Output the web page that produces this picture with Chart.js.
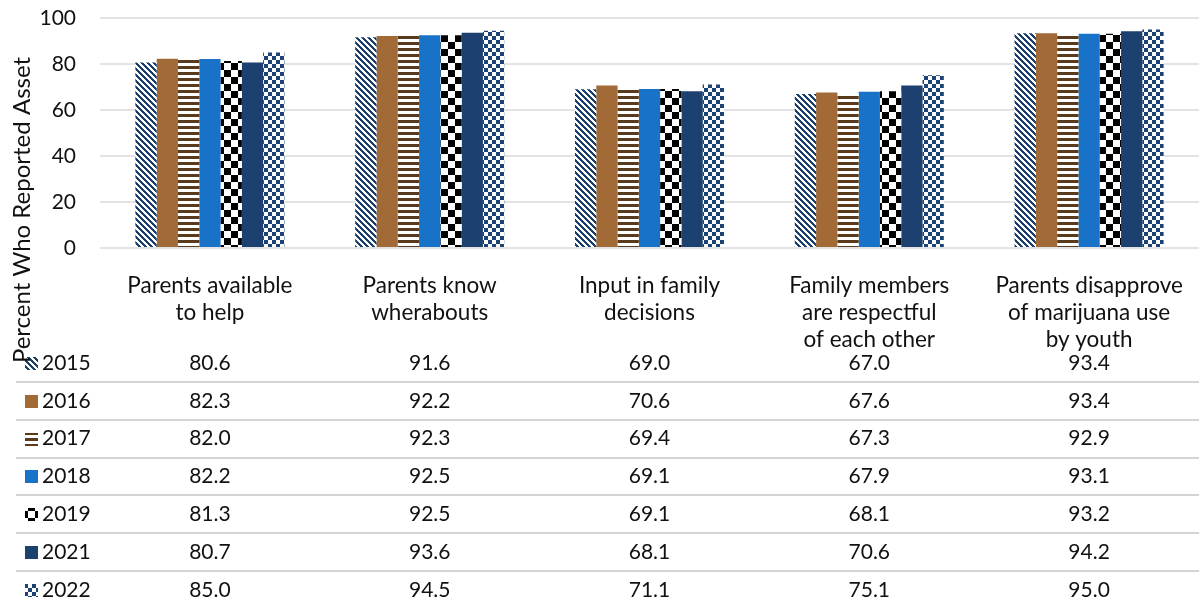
<!DOCTYPE html>
<html>
<head>
<meta charset="utf-8">
<script src="https://cdn.jsdelivr.net/npm/chart.js@4.4.1/dist/chart.umd.min.js"></script>
<style>
  html, body { margin: 0; padding: 0; background: #fff; }
  #wrap { width: 1199px; height: 606px; position: relative; }
</style>
</head>
<body>
<div id="wrap"><canvas id="c" width="1199" height="606"></canvas></div>
<script>
// ---- data ----
const categories = [
  ["Parents available", "to help"],
  ["Parents know", "wherabouts"],
  ["Input in family", "decisions"],
  ["Family members", "are respectful", "of each other"],
  ["Parents disapprove", "of marijuana use", "by youth"]
];
const years = ["2015", "2016", "2017", "2018", "2019", "2021", "2022"];
const v2015 = [80.6, 91.6, 69.0, 67.0, 93.4];
const v2016 = [82.3, 92.2, 70.6, 67.6, 93.4];
const v2017 = [82.0, 92.3, 69.4, 67.3, 92.9];
const v2018 = [82.2, 92.5, 69.1, 67.9, 93.1];
const v2019 = [81.3, 92.5, 69.1, 68.1, 93.2];
const v2021 = [80.7, 93.6, 68.1, 70.6, 94.2];
const v2022 = [85.0, 94.5, 71.1, 75.1, 95.0];
const seriesValues = [v2015, v2016, v2017, v2018, v2019, v2021, v2022];
const yTicks = [0, 20, 40, 60, 80, 100];
const yTitle = "Percent Who Reported Asset";

// ---- patterns ----
function makePattern(size, draw) {
  const c = document.createElement('canvas');
  c.width = size; c.height = size;
  const g = c.getContext('2d');
  draw(g, size);
  return document.getElementById('c').getContext('2d').createPattern(c, 'repeat');
}
const NAVY = '#1b3f6d';
const pDiag = makePattern(6, (g, s) => {
  g.fillStyle = '#fff'; g.fillRect(0, 0, s, s);
  g.fillStyle = NAVY;
  for (let y = 0; y < s; y++) {
    for (let k = 0; k < 3; k++) {
      const x = (y + k) % s;
      g.fillRect(x, y, 1, 1);
    }
  }
});
const pHoriz = makePattern(6, (g, s) => {
  g.fillStyle = '#fff'; g.fillRect(0, 0, s, s);
  g.fillStyle = '#5a3a1c'; g.fillRect(0, 0, s, 3);
});
const pCheckBig = makePattern(14, (g, s) => {
  g.fillStyle = '#fff'; g.fillRect(0, 0, s, s);
  g.fillStyle = '#000'; g.fillRect(0, 0, 7, 7); g.fillRect(7, 7, 7, 7);
});
const pCheckSmall = makePattern(8, (g, s) => {
  g.fillStyle = '#fff'; g.fillRect(0, 0, s, s);
  g.fillStyle = '#1b4375'; g.fillRect(0, 0, 4, 4); g.fillRect(4, 4, 4, 4);
});
const fills = [pDiag, '#a26a37', pHoriz, '#1872c7', pCheckBig, '#1c406f', pCheckSmall];

const FONT = 'Lato, "Open Sans", sans-serif';
const TXT = '#111';

const tablePlugin = {
  id: 'tablePlugin',
  afterDraw(chart) {
    const ctx = chart.ctx;
    const xs = chart.scales.x;
    const base = chart.chartArea.bottom;
    const rowH = 37.8;
    const firstRow = base + 115;
    ctx.save();
    // separators
    ctx.strokeStyle = '#d4d4d4';
    ctx.lineWidth = 2;
    for (let i = 0; i < years.length - 1; i++) {
      const y = Math.round(firstRow + i * rowH + rowH / 2) ;
      ctx.beginPath(); ctx.moveTo(16, y); ctx.lineTo(1199, y); ctx.stroke();
    }
    ctx.font = '21px ' + FONT;
    ctx.fillStyle = TXT;
    ctx.textBaseline = 'middle';
    years.forEach((yr, i) => {
      const y = firstRow + i * rowH;
      ctx.fillStyle = fills[i];
      ctx.fillRect(25, Math.round(y - 6), 13, 13);
      ctx.fillStyle = TXT;
      ctx.textAlign = 'left';
      ctx.fillText(yr, 42, y);
      ctx.textAlign = 'center';
      seriesValues[i].forEach((v, j) => {
        ctx.fillText(v.toFixed(1), xs.getPixelForValue(j), y);
      });
    });
    // y-axis title
    ctx.translate(22, 210);
    ctx.rotate(-Math.PI / 2);
    ctx.textAlign = 'center';
    ctx.textBaseline = 'middle';
    ctx.font = '24px ' + FONT;
    ctx.fillStyle = TXT;
    ctx.fillText(yTitle, 0, 0);
    ctx.restore();
  }
};

new Chart(document.getElementById('c'), {
  type: 'bar',
  data: {
    labels: categories,
    datasets: years.map((yr, i) => ({
      label: yr,
      data: seriesValues[i],
      backgroundColor: fills[i],
      borderWidth: 0,
      categoryPercentage: 0.678,
      barPercentage: 1.0
    }))
  },
  options: {
    responsive: false,
    animation: false,
    devicePixelRatio: 1,
    layout: { padding: { top: 18, right: 0, bottom: 0, left: 0 } },
    plugins: { legend: { display: false }, tooltip: { enabled: false } },
    scales: {
      x: {
        grid: { display: false, drawTicks: false },
        border: { display: false },
        ticks: {
          color: TXT,
          font: { family: FONT, size: 22.5, lineHeight: 1.2 },
          padding: 24,
          maxRotation: 0,
          autoSkip: false
        },
        afterFit(s) { s.height = 358; s.paddingLeft = 0; s.paddingRight = 0; }
      },
      y: {
        min: 0, max: 100,
        afterBuildTicks(s) { s.ticks = yTicks.map(v => ({ value: v })); },
        grid: { color: '#e3e3e3', lineWidth: 2, drawTicks: false },
        border: { display: false },
        ticks: {
          color: TXT,
          font: { family: FONT, size: 21 },
          padding: 24
        },
        afterFit(s) { s.width = 100; s.paddingTop = 0; s.paddingBottom = 0; }
      }
    }
  },
  plugins: [tablePlugin]
});
</script>
</body>
</html>
